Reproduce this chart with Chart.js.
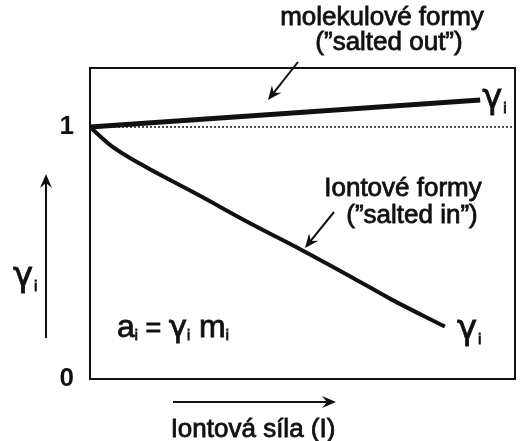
<!DOCTYPE html>
<html>
<head>
<meta charset="utf-8">
<script src="https://cdn.jsdelivr.net/npm/chart.js@4"></script>
<style>
  html, body { margin: 0; padding: 0; background: #fff; }
  #wrap { width: 521px; height: 441px; }
</style>
</head>
<body>
<div id="wrap"><canvas id="c" width="521" height="441"></canvas></div>
<script>
// data (x = ionic strength, relative; y = activity coefficient)
const molX = [0, 0.918];
const molY = [1, 1.107];
const ionX = [0, 0.05, 0.12, 0.25, 0.38, 0.5, 0.62, 0.71, 0.835];
const ionY = [1, 0.925, 0.852, 0.735, 0.615, 0.51, 0.40, 0.315, 0.208];
const refX = [0, 1];
const refY = [1, 1];
const yTicks = [0, 1];

const ink = '#111';
const font = '"Liberation Sans", Arial, sans-serif';
const greek = '"DejaVu Sans", sans-serif';

const pts = (xs, ys) => xs.map((x, i) => ({ x: x, y: ys[i] }));

// text a bit heavier than regular, like the scanned original
function heavy(ctx, t, x, y) {
    ctx.fillText(t, x, y);
    ctx.lineWidth = 0.8;
    ctx.strokeStyle = ink;
    ctx.strokeText(t, x, y);
}

// filled dart-like arrow head
function arrow(ctx, x1, y1, x2, y2, w) {
    const a = Math.atan2(y2 - y1, x2 - x1);
    const len = 14;
    ctx.save();
    ctx.strokeStyle = ink;
    ctx.fillStyle = ink;
    ctx.lineWidth = w;
    ctx.beginPath();
    ctx.moveTo(x1, y1);
    ctx.lineTo(x2 - Math.cos(a) * len * 0.6, y2 - Math.sin(a) * len * 0.6);
    ctx.stroke();
    ctx.translate(x2, y2);
    ctx.rotate(a);
    ctx.beginPath();
    ctx.moveTo(0, 0);
    ctx.lineTo(-len, -6);
    ctx.lineTo(-len * 0.65, 0);
    ctx.lineTo(-len, 6);
    ctx.closePath();
    ctx.fill();
    ctx.restore();
}

// gamma with subscript i
function gammaI(ctx, x, y, size) {
    ctx.save();
    ctx.fillStyle = ink;
    ctx.textBaseline = 'alphabetic';
    ctx.textAlign = 'left';
    ctx.font = size + 'px ' + greek;
    heavy(ctx, 'γ', x, y);
    const w = ctx.measureText('γ').width;
    ctx.font = Math.round(size * 0.45) + 'px ' + font;
    heavy(ctx, 'i', x + w + 1, y + 5);
    ctx.restore();
}

const notes = {
    id: 'notes',
    afterDraw(chart) {
        const { ctx, chartArea: ca, scales } = chart;
        const sx = scales.x, sy = scales.y;

        // frame
        ctx.save();
        ctx.strokeStyle = ink;
        ctx.lineWidth = 2;
        ctx.strokeRect(ca.left, ca.top, ca.right - ca.left, ca.bottom - ca.top);
        ctx.restore();

        ctx.save();
        ctx.fillStyle = ink;
        ctx.textAlign = 'center';
        ctx.textBaseline = 'middle';
        ctx.font = '26px ' + font;
        heavy(ctx, 'molekulové formy', 382, 18);
        heavy(ctx, '(”salted out”)', 389, 43);
        heavy(ctx, 'Iontové formy', 403, 189);
        heavy(ctx, '(”salted in”)', 412, 216);
        heavy(ctx, 'Iontová síla (I)', 253, 430);
        ctx.restore();

        arrow(ctx, 298, 62, 268, 100, 2);
        arrow(ctx, 334, 212, 305, 248, 2);
        arrow(ctx, 173, 402, 336, 402, 2);
        arrow(ctx, 46, 338, 46, 174, 2);

        // series end labels
        gammaI(ctx, sx.getPixelForValue(molX[1]) + 2, sy.getPixelForValue(molY[1]) + 8, 34);
        gammaI(ctx, sx.getPixelForValue(ionX[ionX.length - 1]) + 12, sy.getPixelForValue(ionY[ionY.length - 1]) + 12, 34);
        gammaI(ctx, 13, 286, 34);

        // formula
        ctx.save();
        ctx.fillStyle = ink;
        ctx.textBaseline = 'alphabetic';
        let x = 117;
        const y = 337;
        const part = (t, s, f, dy) => {
            ctx.font = s + 'px ' + (f || font);
            heavy(ctx, t, x, y + (dy || 0));
            x += ctx.measureText(t).width;
        };
        part('a', 32); part('i', 14, null, 3); part(' = ', 27);
        part('γ', 31, greek); part('i', 14, null, 3); part(' m', 32); part('i', 14, null, 3);
        ctx.restore();
    }
};

new Chart(document.getElementById('c'), {
    type: 'scatter',
    data: {
        datasets: [
            { data: pts(refX, refY), showLine: true, borderColor: ink, borderWidth: 1.5, borderDash: [2, 2], pointRadius: 0 },
            { data: pts(molX, molY), showLine: true, borderColor: ink, borderWidth: 5, pointRadius: 0 },
            { data: pts(ionX, ionY), showLine: true, borderColor: ink, borderWidth: 4, pointRadius: 0, cubicInterpolationMode: 'monotone' }
        ]
    },
    plugins: [notes],
    options: {
        responsive: false,
        animation: false,
        layout: { padding: { left: 0, right: 6, top: 68, bottom: 62 } },
        plugins: { legend: { display: false }, tooltip: { enabled: false } },
        scales: {
            x: {
                type: 'linear', min: 0, max: 1,
                grid: { display: false, drawTicks: false },
                border: { display: false },
                ticks: { display: false },
                afterFit: s => { s.height = 0; }
            },
            y: {
                type: 'linear', min: 0, max: 1.234,
                grid: { display: false, drawTicks: false },
                border: { display: false },
                afterBuildTicks: s => { s.ticks = yTicks.map(v => ({ value: v })); },
                ticks: { color: ink, padding: 16, font: { family: font, size: 26, weight: 'bold' }, callback: v => String(v) },
                afterFit: s => { s.width = 90; }
            }
        }
    }
});
</script>
</body>
</html>
